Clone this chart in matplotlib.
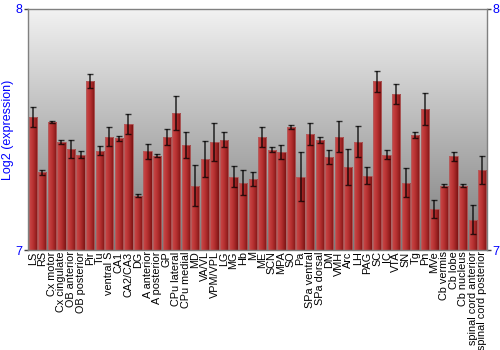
import numpy as np
import matplotlib
matplotlib.use("Agg")
import matplotlib.pyplot as plt
from matplotlib.colors import LinearSegmentedColormap

plt.rcParams['font.family'] = ['Liberation Sans', 'DejaVu Sans']

categories = ["LS", "RS", "Cx motor", "Cx cingulate", "OB anterior", "OB posterior", "Pir", "Tu",
              "ventral S", "CA1", "CA2/CA3", "DG", "A anterior", "A posterior", "GP", "CPu lateral",
              "CPu medial", "MD", "VA/VL", "VPM/VPL", "LG", "MG", "Hb", "M", "ME", "SCN", "MPA", "SO",
              "Pa", "SPa ventral", "SPa dorsal", "DM", "VMH", "Arc", "LH", "PAG", "SC", "IC", "VTA",
              "SN", "Tg", "Pn", "MVe", "Cb vermis", "Cb lobe", "Cb nucleus", "spinal cord anterior",
              "spinal cord posterior"]
values = [7.552, 7.323, 7.532, 7.448, 7.419, 7.395, 7.701, 7.412,
          7.470, 7.463, 7.523, 7.226, 7.409, 7.392, 7.470, 7.567,
          7.434, 7.267, 7.378, 7.448, 7.457, 7.304, 7.280, 7.294, 7.470, 7.417, 7.407, 7.511,
          7.304, 7.481, 7.457, 7.385, 7.470, 7.344, 7.449, 7.309, 7.700, 7.395, 7.647,
          7.279, 7.477, 7.585, 7.169, 7.266, 7.388, 7.266, 7.125,
          7.331]
errors = [0.040, 0.010, 0.004, 0.008, 0.037, 0.015, 0.028, 0.018,
          0.040, 0.012, 0.040, 0.006, 0.030, 0.006, 0.033, 0.071,
          0.054, 0.084, 0.076, 0.077, 0.031, 0.044, 0.053, 0.028, 0.041, 0.010, 0.030, 0.007,
          0.101, 0.046, 0.011, 0.029, 0.065, 0.075, 0.064, 0.036, 0.043, 0.019, 0.042,
          0.060, 0.014, 0.067, 0.038, 0.006, 0.018, 0.006, 0.060,
          0.059]
yticks = [7, 8]

fig = plt.figure(figsize=(5, 3.5), dpi=100)
ax = fig.add_axes([0.056, 0.2857, 0.918, 0.6886])

x = np.arange(len(categories))
ax.set_xlim(-0.5, len(categories) - 0.5)
ax.set_ylim(7, 8)

# background gradient
bg = LinearSegmentedColormap.from_list("bg", ["#7c7c7c", "#f2f2f2"])
grad = np.linspace(0, 1, 256).reshape(-1, 1)
ax.imshow(grad, aspect='auto', cmap=bg, origin='lower', extent=[0, 1, 0, 1],
          transform=ax.transAxes, zorder=0)

bars = ax.bar(x, np.array(values) - 7, bottom=7, width=0.86, color='none',
              edgecolor='#b06060', linewidth=0.6, zorder=2)
barcm = LinearSegmentedColormap.from_list("bar", ["#cc4a4a", "#b53030", "#7e1414"])
hgrad = np.linspace(0, 1, 64).reshape(1, -1)
for b in bars:
    x0, y0 = b.get_x(), b.get_y()
    im = ax.imshow(hgrad, aspect='auto', cmap=barcm, extent=[x0, x0 + b.get_width(), y0, y0 + b.get_height()],
                   zorder=1.5, interpolation='bilinear')
    im.set_clip_path(b)

ax.errorbar(x, values, yerr=errors, fmt='none', ecolor='black', elinewidth=1.2,
            capsize=2.2, capthick=1.0, alpha=0.75, zorder=3)

ax.set_xlim(-0.5, len(categories) - 0.5)
ax.set_ylim(7, 8)
ax.set_xticks(x)
ax.set_xticklabels(categories, rotation=90, fontsize=7.8)
ax.tick_params(axis='x', length=0, pad=1)
ax.set_yticks(yticks)
ax.tick_params(axis='y', labelcolor='blue', labelsize=9, length=3, width=1,
               left=True, right=True, labelleft=True, labelright=True, pad=1, colors='#404040')
for t in ax.get_yticklabels():
    t.set_color('blue')
ax.set_ylabel("Log2 (expression)", color='blue', fontsize=9, labelpad=1)
for s in ax.spines.values():
    s.set_color('#808080')
    s.set_linewidth(1)

fig.savefig("out.png", dpi=100)
